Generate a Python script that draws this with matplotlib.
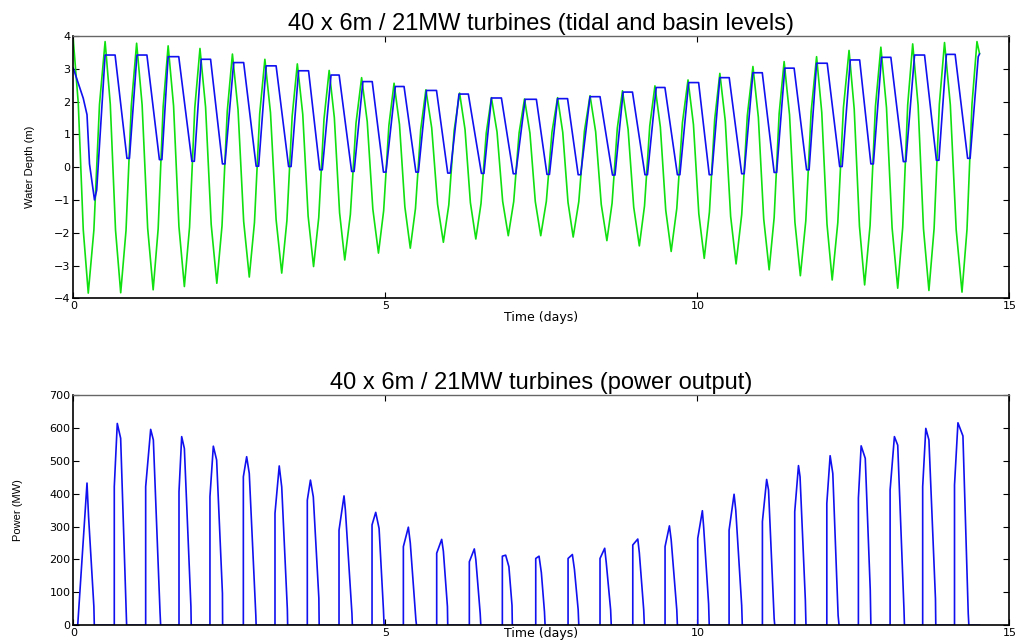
import matplotlib
matplotlib.use("Agg")
import matplotlib.pyplot as plt
import numpy as np

# Tidal level (m): turning points plus two shoulder points
# on every rise / fall
tide_t = [0.0, 0.08, 0.16,
          0.24, 0.33, 0.42,
          0.51, 0.593, 0.677,
          0.76, 0.845, 0.93,
          1.015, 1.103, 1.192,
          1.28, 1.36, 1.44,
          1.52, 1.607, 1.693,
          1.78, 1.863, 1.947,
          2.03, 2.12, 2.21,
          2.30, 2.383, 2.467,
          2.55, 2.64, 2.73,
          2.82, 2.903, 2.987,
          3.07, 3.16, 3.25,
          3.34, 3.423, 3.507,
          3.59, 3.677, 3.763,
          3.85, 3.933, 4.017,
          4.10, 4.183, 4.267,
          4.35, 4.44, 4.53,
          4.62, 4.71, 4.80,
          4.89, 4.973, 5.057,
          5.14, 5.227, 5.313,
          5.40, 5.483, 5.567,
          5.65, 5.743, 5.837,
          5.93, 6.017, 6.103,
          6.19, 6.277, 6.363,
          6.45, 6.533, 6.617,
          6.70, 6.79, 6.88,
          6.97, 7.057, 7.143,
          7.23, 7.317, 7.403,
          7.49, 7.58, 7.67,
          7.76, 7.843, 7.927,
          8.01, 8.10, 8.19,
          8.28, 8.37, 8.46,
          8.55, 8.633, 8.717,
          8.80, 8.89, 8.98,
          9.07, 9.153, 9.237,
          9.32, 9.407, 9.493,
          9.58, 9.67, 9.76,
          9.85, 9.937, 10.023,
          10.11, 10.193, 10.277,
          10.36, 10.447, 10.533,
          10.62, 10.71, 10.80,
          10.89, 10.977, 11.063,
          11.15, 11.23, 11.31,
          11.39, 11.477, 11.563,
          11.65, 11.737, 11.823,
          11.91, 11.993, 12.077,
          12.16, 12.25, 12.34,
          12.43, 12.513, 12.597,
          12.68, 12.767, 12.853,
          12.94, 13.03, 13.12,
          13.21, 13.29, 13.37,
          13.45, 13.537, 13.623,
          13.71, 13.793, 13.877,
          13.96, 14.053, 14.147,
          14.24, 14.32, 14.40,
          14.48, 14.52]
tide_h = [3.88, 1.95, -1.91,
          -3.84, -1.92, 1.91,
          3.83, 1.92, -1.92,
          -3.83, -1.93, 1.88,
          3.78, 1.90, -1.86,
          -3.74, -1.88, 1.84,
          3.70, 1.87, -1.81,
          -3.64, -1.83, 1.81,
          3.62, 1.83, -1.75,
          -3.54, -1.79, 1.70,
          3.45, 1.75, -1.65,
          -3.35, -1.69, 1.63,
          3.29, 1.66, -1.60,
          -3.23, -1.63, 1.55,
          3.15, 1.61, -1.49,
          -3.03, -1.54, 1.46,
          2.95, 1.51, -1.39,
          -2.83, -1.44, 1.34,
          2.73, 1.39, -1.28,
          -2.62, -1.33, 1.27,
          2.56, 1.30, -1.21,
          -2.47, -1.26, 1.15,
          2.36, 1.20, -1.13,
          -2.29, -1.15, 1.12,
          2.26, 1.15, -1.08,
          -2.19, -1.11, 1.04,
          2.12, 1.07, -1.04,
          -2.09, -1.05, 1.04,
          2.08, 1.04, -1.05,
          -2.09, -1.04, 1.07,
          2.12, 1.06, -1.07,
          -2.13, -1.05, 1.10,
          2.18, 1.08, -1.14,
          -2.24, -1.10, 1.19,
          2.33, 1.15, -1.22,
          -2.40, -1.18, 1.26,
          2.48, 1.22, -1.31,
          -2.57, -1.26, 1.35,
          2.66, 1.30, -1.42,
          -2.78, -1.37, 1.45,
          2.86, 1.41, -1.50,
          -2.95, -1.45, 1.57,
          3.07, 1.52, -1.58,
          -3.13, -1.54, 1.63,
          3.22, 1.59, -1.68,
          -3.31, -1.64, 1.70,
          3.37, 1.67, -1.74,
          -3.44, -1.69, 1.81,
          3.56, 1.77, -1.80,
          -3.59, -1.78, 1.85,
          3.66, 1.82, -1.85,
          -3.69, -1.83, 1.90,
          3.76, 1.88, -1.88,
          -3.76, -1.87, 1.91,
          3.80, 1.90, -1.91,
          -3.81, -1.90, 1.92,
          3.83, 3.47]

# Basin level (m): first drawdown, then one hold / drawdown per tide
basin_lead_t = [0.0, 0.16, 0.22, 0.26, 0.34, 0.375]
basin_lead_h = [3.02, 2.10, 1.60, 0.10, -1.00, -0.70]
hold_start = [0.51, 1.02, 1.52, 2.05, 2.57, 3.09, 3.61, 4.13, 4.64, 5.16, 5.66, 6.18,
              6.70, 7.24, 7.76, 8.28, 8.81, 9.34, 9.86, 10.36, 10.89, 11.40, 11.91,
              12.45, 12.95, 13.48, 13.99]
hold_end = [0.67, 1.18, 1.69, 2.20, 2.73, 3.25, 3.77, 4.26, 4.79, 5.30, 5.82, 6.33,
            6.86, 7.42, 7.92, 8.44, 8.96, 9.48, 10.02, 10.51, 11.04, 11.55, 12.08,
            12.60, 13.10, 13.64, 14.13]
hold_level = [3.42, 3.42, 3.37, 3.29, 3.19, 3.09, 2.94, 2.81, 2.61, 2.46, 2.34, 2.23,
              2.11, 2.07, 2.09, 2.15, 2.29, 2.43, 2.58, 2.73, 2.88, 3.02, 3.17,
              3.27, 3.35, 3.42, 3.44]
low_start = [0.86, 1.38, 1.90, 2.39, 2.93, 3.45, 3.95, 4.46, 4.97, 5.49, 6.00, 6.54,
             7.05, 7.59, 8.09, 8.64, 9.16, 9.68, 10.19, 10.71, 11.23, 11.75, 12.28,
             12.78, 13.30, 13.83, 14.33]
low_end = [0.90, 1.42, 1.94, 2.43, 2.97, 3.49, 3.99, 4.50, 5.01, 5.53, 6.04, 6.58,
           7.09, 7.63, 8.13, 8.68, 9.20, 9.72, 10.23, 10.75, 11.27, 11.79, 12.32,
           12.82, 13.34, 13.87, 14.37]
low_level = [0.27, 0.23, 0.18, 0.10, 0.03, 0.02, -0.08, -0.13, -0.15, -0.15, -0.18, -0.19,
             -0.20, -0.22, -0.23, -0.24, -0.23, -0.23, -0.23, -0.20, -0.16, -0.08, 0.02,
             0.10, 0.17, 0.21, 0.27]
basin_tail_t = [14.50, 14.52]
basin_tail_h = [3.37, 3.45]

# Power output (MW): one generating pulse per ebb
p_on = [0.071, 0.657, 1.16, 1.694, 2.19, 2.725, 3.232, 3.75, 4.258, 4.787, 5.289, 5.823,
        6.346, 6.875, 7.41, 7.928, 8.44, 8.965, 9.482, 10.006, 10.508, 11.042, 11.56,
        12.074, 12.58, 13.088, 13.61, 14.12]
p_on_val = [0, 421, 421, 406, 391, 451, 340, 380, 289, 305, 239, 219,
            193, 210, 203, 203, 203, 244, 239, 264, 289, 315, 345,
            370, 386, 411, 421, 426]
p_peak_t = [0.22, 0.705, 1.24, 1.737, 2.244, 2.778, 3.30, 3.80, 4.338, 4.846, 5.369, 5.903,
            6.426, 6.928, 7.463, 7.997, 8.515, 9.045, 9.552, 10.08, 10.588, 11.11, 11.62,
            12.127, 12.624, 13.157, 13.66, 14.175]
p_peak = [432, 613, 595, 573, 544, 512, 484, 441, 393, 343, 298, 261,
          232, 213, 210, 215, 234, 262, 302, 348, 398, 443, 485,
          515, 545, 573, 598, 615]
p_knee_t = [0.245, 0.759, 1.283, 1.78, 2.297, 2.82, 3.34, 3.846, 4.36, 4.90, 5.40, 5.93,
            6.45, 6.98, 7.50, 8.03, 8.54, 9.07, 9.58, 10.10, 10.615, 11.14, 11.645,
            12.17, 12.69, 13.21, 13.71, 14.255]
p_knee = [330, 568, 563, 537, 502, 461, 420, 390, 350, 294, 250, 225,
          200, 178, 160, 170, 190, 220, 260, 300, 350, 411, 451,
          461, 507, 547, 563, 575]
p_tail_t = [0.33, 0.85, 1.39, 1.885, 2.39, 2.925, 3.43, 3.935, 4.465, 4.97, 5.49, 5.995,
            6.52, 7.03, 7.55, 8.09, 8.61, 9.14, 9.67, 10.18, 10.71, 11.23, 11.73,
            12.255, 12.77, 13.31, 13.815, 14.34]
p_tail = [57, 30, 40, 57, 97, 30, 49, 82, 36, 47, 16, 57,
          36, 60, 41, 47, 47, 47, 47, 65, 60, 21, 77,
          30, 107, 50, 80, 36]
p_off = [0.337, 0.855, 1.40, 1.89, 2.393, 2.93, 3.435, 3.94, 4.472, 4.98, 5.50, 6.00,
         6.53, 7.035, 7.56, 8.10, 8.62, 9.15, 9.68, 10.19, 10.72, 11.24, 11.74,
         12.27, 12.78, 13.318, 13.82, 14.35]
p_end_t = 14.52

# assemble polylines from the tables above
basin_t = list(basin_lead_t)
basin_h = list(basin_lead_h)
for a, b, hl, c, d, ll in zip(hold_start, hold_end, hold_level, low_start, low_end, low_level):
    basin_t += [a, b, c, d]
    basin_h += [hl, hl, ll, ll]
basin_t += basin_tail_t
basin_h += basin_tail_h

power_t = [0.0]
power_v = [0.0]
for row in zip(p_on, p_on_val, p_peak_t, p_peak, p_knee_t, p_knee, p_tail_t, p_tail, p_off):
    t_on, v_on, t_pk, v_pk, t_kn, v_kn, t_tl, v_tl, t_off = row
    power_t += [t_on, t_on, t_pk, t_kn, t_tl, t_off]
    power_v += [0.0, v_on, v_pk, v_kn, v_tl, 0.0]
power_t.append(p_end_t)
power_v.append(0.0)

green = '#10e010'
blue = '#1010f0'
tick_font = dict(family='DejaVu Sans', size=9)
title_font = dict(family='Liberation Sans', size=17)


def style_axes(ax):
    ax.tick_params(direction='in', top=True, right=True, length=4, width=0.8, pad=2)
    for lab in ax.get_xticklabels() + ax.get_yticklabels():
        lab.set_fontfamily('DejaVu Sans')
        lab.set_fontsize(8)
    for s in ['left', 'bottom', 'right']:
        ax.spines[s].set_linewidth(1.2)
        ax.spines[s].set_color('black')
    ax.spines['top'].set_linewidth(1.0)
    ax.spines['top'].set_color('#666666')


fig = plt.figure(figsize=(10.22, 6.43), dpi=100)
ax1 = fig.add_axes([0.0717, 0.536, 0.916, 0.408])
ax2 = fig.add_axes([0.0717, 0.0275, 0.916, 0.3585])

ax1.plot(tide_t, tide_h, color=green, lw=1.2)
ax1.plot(basin_t, basin_h, color=blue, lw=1.2)
ax1.set_xlim(0, 15)
ax1.set_ylim(-4, 4)
ax1.set_xticks([0, 5, 10, 15])
ax1.set_yticks(np.arange(-4, 5, 1))
style_axes(ax1)
ax1.set_title('40 x 6m / 21MW turbines (tidal and basin levels)', fontdict=title_font, pad=4)
ax1.set_xlabel('Time (days)', fontdict=tick_font, labelpad=0)
ax1.set_ylabel('Water Depth (m)', family='Liberation Sans', fontsize=8)
ax1.yaxis.set_label_coords(-0.041, 0.5)

ax2.plot(power_t, power_v, color=blue, lw=1.2)
ax2.set_xlim(0, 15)
ax2.set_ylim(0, 700)
ax2.set_xticks([0, 5, 10, 15])
ax2.set_yticks(np.arange(0, 701, 100))
style_axes(ax2)
ax2.set_title('40 x 6m / 21MW turbines (power output)', fontdict=title_font, pad=4)
ax2.set_xlabel('Time (days)', fontdict=tick_font, labelpad=-8)
ax2.set_ylabel('Power (MW)', family='Liberation Sans', fontsize=8)
ax2.yaxis.set_label_coords(-0.054, 0.5)

fig.savefig('out.png', dpi=100)
